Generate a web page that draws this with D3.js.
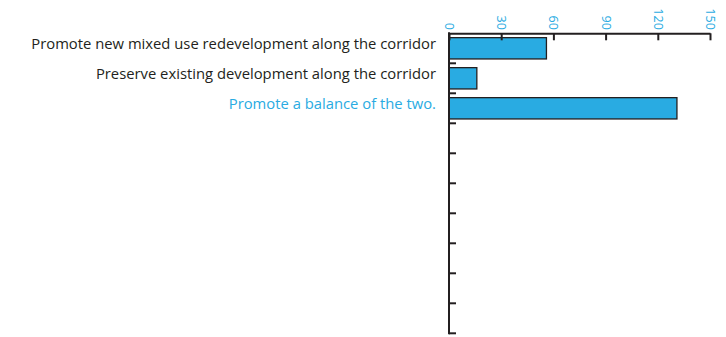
<!DOCTYPE html>
<html>
<head>
<meta charset="utf-8">
<script src="https://cdn.jsdelivr.net/npm/d3@7"></script>
<style>
  html, body { margin: 0; padding: 0; background: #fff; }
  svg { display: block; }
</style>
</head>
<body>
<svg id="chart" width="726" height="337"></svg>
<script>
// Survey responses: preferred approach for the corridor
const categories = [
  "Promote new mixed use redevelopment along the corridor",
  "Preserve existing development along the corridor",
  "Promote a balance of the two."
];
const values = [56, 16, 131];
const xTicks = [0, 30, 60, 90, 120, 150];
const rowSlots = 10; // the category axis reserves room for ten rows

const ink = "#231f20";
const blue = "#29abe2";
const highlighted = 2; // the label drawn in blue

const svg = d3.select("#chart");
const plotLeft = 449, plotTop = 33.3, plotRight = 710, plotBottom = 333.3;

const x = d3.scaleLinear().domain([0, 150]).range([plotLeft, plotRight]);
const y = d3.scaleBand().domain(d3.range(rowSlots)).range([plotTop, plotBottom]).paddingInner(0.29).paddingOuter(0.145);

// bars
svg.append("g").selectAll("rect")
  .data(values)
  .join("rect")
  .attr("x", x(0))
  .attr("y", (d, i) => y(i))
  .attr("width", d => x(d) - x(0))
  .attr("height", y.bandwidth())
  .attr("fill", blue)
  .attr("stroke", ink)
  .attr("stroke-width", 1.3);

// top value axis
const xAxis = svg.append("g")
  .attr("transform", `translate(0,${plotTop})`)
  .call(d3.axisTop(x).tickValues(xTicks).tickSizeInner(-7).tickSizeOuter(0).tickPadding(0));
xAxis.select(".domain").attr("stroke", ink).attr("stroke-width", 2);
xAxis.selectAll(".tick line").attr("stroke", ink).attr("stroke-width", 2);
xAxis.selectAll(".tick text")
  .attr("fill", blue)
  .attr("font-family", "'Open Sans', 'Noto Sans', sans-serif")
  .attr("font-size", 12.5)
  .attr("text-anchor", "end")
  .attr("dominant-baseline", "central")
  .attr("transform", "translate(0,-3.5) rotate(90)")
  .attr("x", 0)
  .attr("y", 0)
  .attr("dy", null);

// left category axis: a line with inward ticks at each row boundary
const boundaries = d3.range(1, rowSlots + 1).map(i => plotTop + i * y.step());
const yAxis = svg.append("g");
yAxis.append("line")
  .attr("x1", plotLeft).attr("x2", plotLeft)
  .attr("y1", plotTop - 1).attr("y2", plotBottom + 1)
  .attr("stroke", ink).attr("stroke-width", 2);
yAxis.selectAll("line.tick")
  .data(boundaries)
  .join("line")
  .attr("class", "tick")
  .attr("x1", plotLeft).attr("x2", plotLeft + 7)
  .attr("y1", d => d).attr("y2", d => d)
  .attr("stroke", ink).attr("stroke-width", 2);

// category labels
svg.append("g").selectAll("text")
  .data(categories)
  .join("text")
  .attr("x", plotLeft - 13)
  .attr("y", (d, i) => y(i) + y.bandwidth() / 2 + 1)
  .attr("text-anchor", "end")
  .attr("font-family", "'Open Sans', 'Noto Sans', sans-serif")
  .attr("font-size", 14.8)
  .attr("fill", (d, i) => i === highlighted ? blue : ink)
  .text(d => d);
</script>
</body>
</html>
